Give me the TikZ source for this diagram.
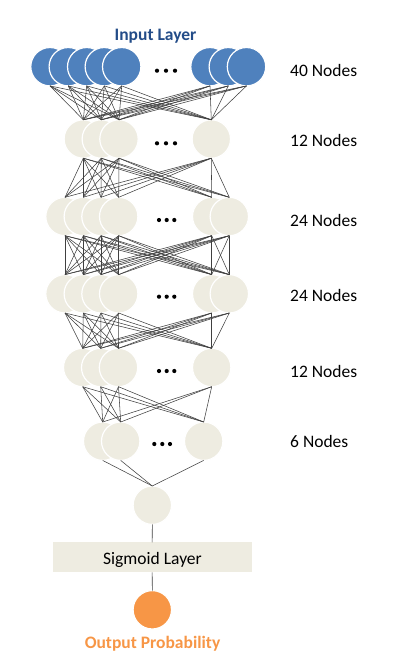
\documentclass[tikz,border=0pt]{standalone}
\usepackage{fontspec}
\setmainfont{Carlito}
\definecolor{inblue}{HTML}{4F81BD}
\definecolor{beige}{HTML}{EEECE1}
\definecolor{outorange}{HTML}{F79646}
\definecolor{titleblue}{HTML}{234C88}
\begin{document}
\begin{tikzpicture}[x=1pt,y=-1pt,
  neuron/.style={circle, minimum size=38.4pt, inner sep=0pt, outer sep=0pt, draw=white, line width=1.2pt},
  inneuron/.style={neuron, fill=inblue},
  hidneuron/.style={neuron, fill=beige},
  outneuron/.style={neuron, fill=outorange},
  conn/.style={draw=black!75, line width=0.55pt},
  lbl/.style={font=\fontsize{17.5}{20}\selectfont, anchor=base west, inner sep=0pt},
  ttl/.style={font=\fontsize{17.5}{20}\selectfont\bfseries, anchor=base, inner sep=0pt},
  dotmark/.style={circle, fill=black, inner sep=0pt, minimum size=4.2pt},
  sigbox/.style={rectangle, fill=beige, minimum width=199pt, minimum height=30pt, inner sep=0pt, outer sep=0pt}]
\useasboundingbox (0,0) rectangle (409,667);

% layers
\foreach \n/\x in {1/50,2/68.3,3/86.7,4/104.3,5/121.7,6/210,7/228.3,8/246.5}
  \node[inneuron] (i\n) at (\x,66.7) {};
\foreach \n/\x in {1/83.3,2/101.3,3/119,4/211.3}
  \node[hidneuron] (a\n) at (\x,139) {};
\foreach \n/\x in {1/65,2/83.3,3/101,4/118.7,5/211.7,6/229.3}
  \node[hidneuron] (b\n) at (\x,216.5) {};
\foreach \n/\x in {1/65,2/83.3,3/101,4/118.7,5/211.7,6/229.3}
  \node[hidneuron] (c\n) at (\x,293.8) {};
\foreach \n/\x in {1/82.7,2/100.7,3/118.5,4/211.7}
  \node[hidneuron] (d\n) at (\x,367.5) {};
\foreach \n/\x in {1/102.7,2/120.7,3/203.7}
  \node[hidneuron] (e\n) at (\x,441.2) {};
\node[hidneuron] (f) at (152.3,505.2) {};
\node[sigbox] (s) at (152.2,557.3) {};
\node[font=\fontsize{17.5}{20}\selectfont, anchor=base, inner sep=0pt] (stext) at (152.5,564) {Sigmoid Layer};
\node[outneuron] (o) at (152.3,609.8) {};

% connections
\foreach \p in {1,...,8} \foreach \q in {1,...,4} \draw[conn] (i\p.south) -- (a\q.north);
\foreach \p in {1,...,4} \foreach \q in {1,...,6} \draw[conn] (a\p.south) -- (b\q.north);
\foreach \p in {1,...,6} \foreach \q in {1,...,6} \draw[conn] (b\p.south) -- (c\q.north);
\foreach \p in {1,...,6} \foreach \q in {1,...,4} \draw[conn] (c\p.south) -- (d\q.north);
\foreach \p in {1,...,4} \foreach \q in {1,...,3} \draw[conn] (d\p.south) -- (e\q.north);
\foreach \p in {1,...,3} \draw[conn] (e\p.south) -- (f.north);
\draw[conn] (f.south) -- (s.north);
\draw[conn] (s.south) -- (o.north);

% ellipsis dots
\foreach \k/\x in {1/157,2/166,3/175} \node[dotmark] (di\k) at (\x,70.7) {};
\foreach \k/\x in {1/157,2/166,3/175} \node[dotmark] (da\k) at (\x,143.3) {};
\foreach \k/\x in {1/159,2/166.7,3/174.3} \node[dotmark] (db\k) at (\x,220) {};
\foreach \k/\x in {1/159,2/166.7,3/174.3} \node[dotmark] (dc\k) at (\x,296.7) {};
\foreach \k/\x in {1/159,2/166.7,3/174.3} \node[dotmark] (dd\k) at (\x,371) {};
\foreach \k/\x in {1/154.3,2/162.3,3/170} \node[dotmark] (de\k) at (\x,444) {};

% titles
\node[ttl, text=titleblue] (tin) at (155.5,40) {Input Layer};
\node[ttl, text=outorange] (tout) at (152.5,648.3) {Output Probability};

% right labels
\node[lbl] (l1) at (290,76) {40 Nodes};
\node[lbl] (l2) at (290,146) {12 Nodes};
\node[lbl] (l3) at (290,226) {24 Nodes};
\node[lbl] (l4) at (290,301) {24 Nodes};
\node[lbl] (l5) at (290,377.5) {12 Nodes};
\node[lbl] (l6) at (290,447) {6 Nodes};
\end{tikzpicture}
\end{document}
